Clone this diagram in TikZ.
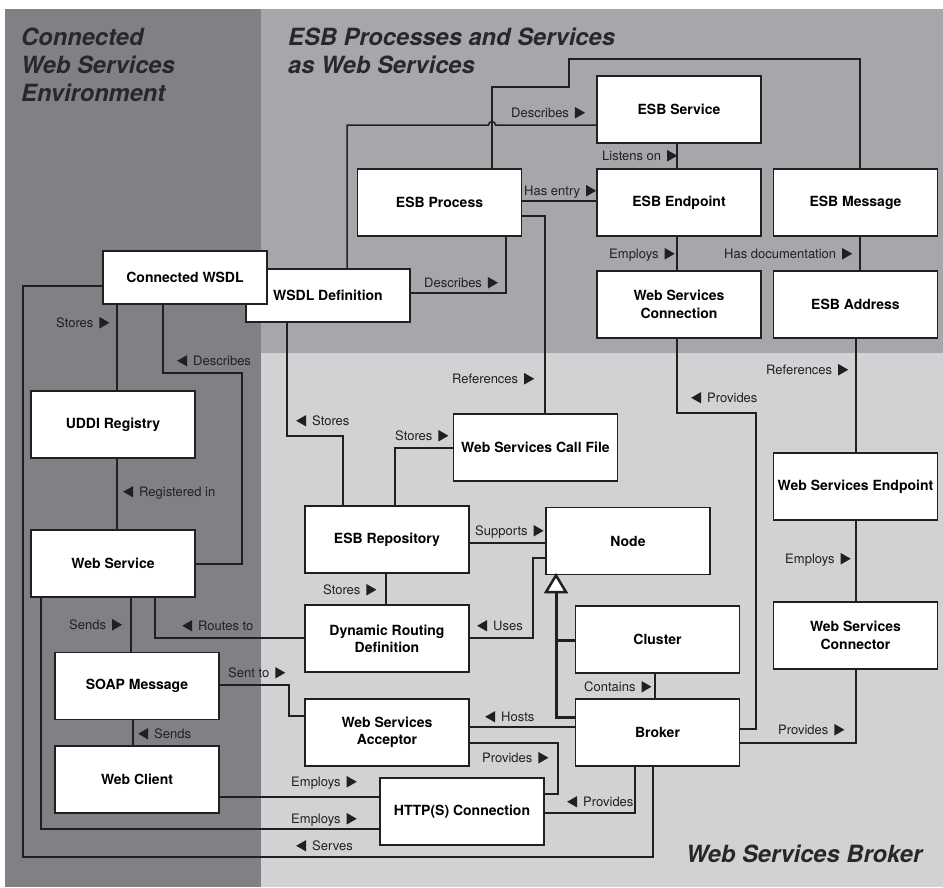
\documentclass[tikz,border=0pt]{standalone}
\usepackage{fontspec}
\setmainfont{TeX Gyre Heros}
\definecolor{envgray}{RGB}{128,129,132}
\definecolor{esbgray}{RGB}{166,167,171}
\definecolor{brkgray}{RGB}{209,210,212}
\definecolor{ink}{RGB}{35,31,32}
\definecolor{titleink}{RGB}{40,40,42}
% small filled arrowheads that read the direction of a relation
\newcommand\ra{\hspace{6pt}\tikz[baseline=0pt]\fill[ink] (0pt,-1.5pt) -- (0pt,10pt) -- (10pt,4.25pt) -- cycle;}
\newcommand\la{\tikz[baseline=0pt]\fill[ink] (10pt,-1.5pt) -- (10pt,10pt) -- (0pt,4.25pt) -- cycle;\hspace{6pt}}
\begin{document}
\begin{tikzpicture}[x=1pt,y=-1pt,
  box/.style={draw=ink, fill=white, line width=1.8pt, minimum width=164pt,
    minimum height=67pt, inner sep=0pt, align=center,
    font=\fontsize{14}{17.3}\selectfont\bfseries},
  flatbox/.style={box, minimum height=53pt},
  wire/.style={draw=ink, line width=1.5pt},
  heavy/.style={draw=ink, line width=3pt},
  lbl/.style={anchor=base west, inner sep=0pt, text=ink,
    font=\fontsize{13}{15}\selectfont},
  ttl/.style={anchor=base west, inner sep=0pt, text=titleink,
    font=\fontsize{23.7}{28}\selectfont\bfseries\itshape}]

\useasboundingbox (0,0) rectangle (943,887);
\fill[white] (0,0) rectangle (943,887);

% the three areas
\fill[envgray] (5,8.5) rectangle (261,887);
\fill[esbgray] (261,8.5) rectangle (943,353);
\fill[brkgray] (261,353) rectangle (943,887);

\node[ttl] (t1a) at (21,45) {Connected};
\node[ttl] (t1b) at (21,73.3) {Web Services};
\node[ttl] (t1c) at (21,101.6) {Environment};
\node[ttl] (t2a) at (288,45) {ESB Processes and Services};
\node[ttl] (t2b) at (288,73.3) {as Web Services};
\node[ttl] (t3) at (686,862) {Web Services Broker};

% entities
\node[box] (esbsvc)  at (679,109.5) {ESB Service};
\node[box] (esbproc) at (439.5,202.5) {ESB Process};
\node[box] (esbendp) at (679,202.5) {ESB Endpoint};
\node[box] (esbmsg)  at (855.5,202.5) {ESB Message};
\node[flatbox] (wsdldef) at (328,295.5) {WSDL Definition};
\node[flatbox] (cwsdl)   at (185,277.5) {Connected WSDL};
\node[box] (wsconn)  at (679,304.5) {Web Services\\Connection};
\node[box] (esbaddr) at (855.5,304.5) {ESB Address};
\node[box] (uddi)    at (113,424.5) {UDDI Registry};
\node[box] (websvc)  at (113,563.5) {Web Service};
\node[box] (callfile) at (535.5,447.5) {Web Services Call File};
\node[box] (wsendp)  at (855.5,486.5) {Web Services Endpoint};
\node[box] (esbrepo) at (387,539.5) {ESB Repository};
\node[box] (node)    at (628,541) {Node};
\node[box] (drd)     at (387,638.5) {Dynamic Routing\\Definition};
\node[box] (soap)    at (137,686) {SOAP Message};
\node[box] (cluster) at (657.5,639.5) {Cluster};
\node[box] (wsconnector) at (855.5,635.5) {Web Services\\Connector};
\node[box] (acceptor) at (387,732.5) {Web Services\\Acceptor};
\node[box] (broker)  at (657.5,732.5) {Broker};
\node[box] (client)  at (137,779.5) {Web Client};
\node[box] (http)    at (462,811.5) {HTTP(S) Connection};

% relations
\draw[wire] (esbproc.east |- 0,201) -- (esbendp.west |- 0,201);
\draw[wire] (esbsvc.south -| 677,0) -- (esbendp.north -| 677,0);
\draw[wire] (esbendp.south -| 677,0) -- (wsconn.north -| 677,0);
\draw[wire] (esbmsg.south -| 860,0) -- (esbaddr.north -| 860,0);
\draw[wire] (esbproc.north -| 492,0) -- (492,87) -- (569,87) -- (569,59)
  -- (860,59) -- (esbmsg.north -| 860,0);
\draw[wire] (wsdldef.north -| 347,0) -- (347,125) -- (488.5,125)
  arc[start angle=180, end angle=360, radius=3.5] -- (esbsvc.west |- 0,125);
\draw[wire] (wsdldef.east |- 0,293) -- (506,293) -- (esbproc.south -| 506,0);
\draw[wire] (esbproc.east |- 0,216) -- (545,216) -- (callfile.north -| 545,0);
\draw[wire] (wsdldef.south -| 287,0) -- (287,436) -- (343,436) -- (esbrepo.north -| 343,0);
\draw[wire] (esbrepo.north -| 395,0) -- (395,448) -- (callfile.west |- 0,448);
\draw[wire] (esbrepo.east |- 0,543) -- (node.west |- 0,543);
\draw[wire] (esbrepo.south -| 386,0) -- (drd.north -| 386,0);
\draw[wire] (drd.east |- 0,638) -- (533,638) -- (533,558) -- (node.west |- 0,558);
\draw[wire] (websvc.south -| 155,0) -- (155,638) -- (drd.west |- 0,638);
\draw[wire] (websvc.south -| 131,0) -- (soap.north -| 131,0);
\draw[wire] (soap.south -| 133,0) -- (client.north -| 133,0);
\draw[wire] (soap.east |- 0,685) -- (289,685) -- (289,716) -- (acceptor.west |- 0,716);
\draw[wire] (client.east |- 0,797) -- (http.west |- 0,797);
\draw[wire] (websvc.south -| 41,0) -- (41,829) -- (http.west |- 0,829);
\draw[wire] (cwsdl.west |- 0,286) -- (23,286) -- (23,857) -- (653,857) -- (broker.south -| 653,0);
\draw[wire] (cwsdl.south -| 117,0) -- (uddi.north -| 117,0);
\draw[wire] (cwsdl.south -| 163,0) -- (163,373) -- (242,373) -- (242,564) -- (websvc.east |- 0,564);
\draw[wire] (uddi.south -| 117,0) -- (websvc.north -| 117,0);
\draw[wire] (wsconn.south -| 677,0) -- (677,413) -- (756,413) -- (756,729) -- (broker.east |- 0,729);
\draw[wire] (esbaddr.south -| 856,0) -- (wsendp.north -| 856,0);
\draw[wire] (wsendp.south -| 856,0) -- (wsconnector.north -| 856,0);
\draw[wire] (broker.east |- 0,743) -- (856,743) -- (wsconnector.south -| 856,0);
\draw[wire] (cluster.south -| 655,0) -- (broker.north -| 655,0);
\draw[wire] (acceptor.east |- 0,727) -- (broker.west |- 0,727);
\draw[wire] (acceptor.east |- 0,743) -- (558,743) -- (558,794) -- (http.east |- 0,794);
\draw[wire] (broker.south -| 635,0) -- (635,813) -- (http.east |- 0,813);

% generalisation of Cluster and Broker into Node
\draw[heavy] (broker.west |- 0,717) -- (556,717) -- (556,592);
\draw[heavy] (cluster.west |- 0,640) -- (556,640);
\draw[ink, line width=2.5pt, fill=white] (node.south -| 556,0) -- (546,592) -- (566,592) -- cycle;

% relation names
\node[lbl] (l1)  at (524,195)   {Has entry\ra};
\node[lbl] (l2)  at (602,160)   {Listens on\ra};
\node[lbl] (l3)  at (609,258)   {Employs\ra};
\node[lbl] (l4)  at (724,258)   {Has documentation\ra};
\node[lbl] (l5)  at (511,117)   {Describes\ra};
\node[lbl] (l6)  at (424,287)   {Describes\ra};
\node[lbl] (l7)  at (452,383)   {References\ra};
\node[lbl] (l8)  at (296,425)   {\la Stores};
\node[lbl] (l9)  at (395,440)   {Stores\ra};
\node[lbl] (l10) at (475,535)   {Supports\ra};
\node[lbl] (l11) at (323,594)   {Stores\ra};
\node[lbl] (l12) at (477,630)   {\la Uses};
\node[lbl] (l13) at (182,630)   {\la Routes to};
\node[lbl] (l14) at (69,629)    {Sends\ra};
\node[lbl] (l15) at (138,738)   {\la Sends};
\node[lbl] (l16) at (228,677)   {Sent to\ra};
\node[lbl] (l17) at (291,786)   {Employs\ra};
\node[lbl] (l18) at (291,823)   {Employs\ra};
\node[lbl] (l19) at (296,850)   {\la Serves};
\node[lbl] (l20) at (56,327)    {Stores\ra};
\node[lbl] (l21) at (177,365)   {\la Describes};
\node[lbl] (l22) at (123,496)   {\la Registered in};
\node[lbl] (l23) at (691,402)   {\la Provides};
\node[lbl] (l24) at (766,374)   {References\ra};
\node[lbl] (l25) at (785,563)   {Employs\ra};
\node[lbl] (l26) at (778,734)   {Provides\ra};
\node[lbl] (l27) at (584,691)   {Contains\ra};
\node[lbl] (l28) at (485,721)   {\la Hosts};
\node[lbl] (l29) at (482,762)   {Provides\ra};
\node[lbl] (l30) at (567,806)   {\la Provides};
\end{tikzpicture}
\end{document}
